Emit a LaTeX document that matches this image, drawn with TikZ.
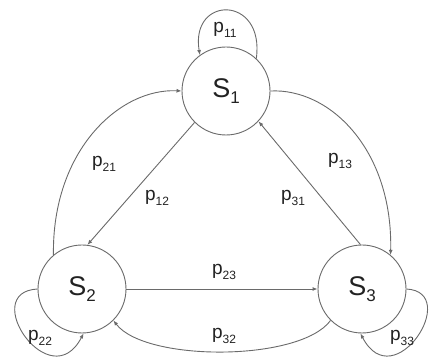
\documentclass[tikz,border=0pt]{standalone}
\usepackage{fontspec}
\setmainfont{Liberation Sans}
\usetikzlibrary{arrows.meta}
\definecolor{edgegray}{HTML}{6A6A6A}
\definecolor{inkdark}{HTML}{222222}
% state name S_i and transition probability p_ij
\newcommand{\statelabel}[1]{{\fontsize{27}{27}\selectfont S}\raisebox{-6pt}{\fontsize{17}{17}\selectfont #1}}
\newcommand{\problabel}[1]{{\fontsize{19}{19}\selectfont p}\raisebox{-5pt}{\fontsize{12}{12}\selectfont #1}}
\begin{document}
\begin{tikzpicture}[x=1pt,y=-1pt,
  statenode/.style={circle, draw=edgegray, line width=0.9pt, minimum size=88pt,
                    inner sep=0pt, text=inkdark, fill=white},
  edge/.style={draw=edgegray, line width=0.9pt, -{Latex[length=5pt,width=4pt]}},
  problab/.style={text=inkdark, inner sep=0pt}]
\useasboundingbox (0,0) rectangle (429,358);

% states
\node[statenode] (S1) at (226,91)  {\statelabel{1}};
\node[statenode] (S2) at (82,289)  {\statelabel{2}};
\node[statenode] (S3) at (362,289) {\statelabel{3}};

% self loops
\draw[edge] (S1.47) .. controls (265,-5) and (190,-5) .. (S1.126);
\draw[edge] (S2.180) .. controls (-22,292) and (50,398) .. (S2.-88);
\draw[edge] (S3.0) .. controls (462,292) and (394,398) .. (S3.-92);

% outer arcs
\draw[edge] (S2.130) .. controls (52,150) and (120,88) .. (S1.180);
\draw[edge] (S1.0) .. controls (330,88) and (393,150) .. (S3.50);
\draw[edge] (S3.-135) .. controls (300,362) and (145,362) .. (S2.-45);

% straight transitions
\draw[edge] (S1.-135) -- (S2.83);
\draw[edge] (S3.92) -- (S1.-43);
\draw[edge] (S2.east) -- (S3.west);

% probabilities
\node[problab] (p11) at (225,30)  {\problabel{11}};
\node[problab] (p21) at (104,164) {\problabel{21}};
\node[problab] (p12) at (157,198) {\problabel{12}};
\node[problab] (p13) at (340,161) {\problabel{13}};
\node[problab] (p31) at (293,198) {\problabel{31}};
\node[problab] (p23) at (224,272) {\problabel{23}};
\node[problab] (p32) at (224,336) {\problabel{32}};
\node[problab] (p22) at (40,338)  {\problabel{22}};
\node[problab] (p33) at (402,338) {\problabel{33}};
\end{tikzpicture}
\end{document}
